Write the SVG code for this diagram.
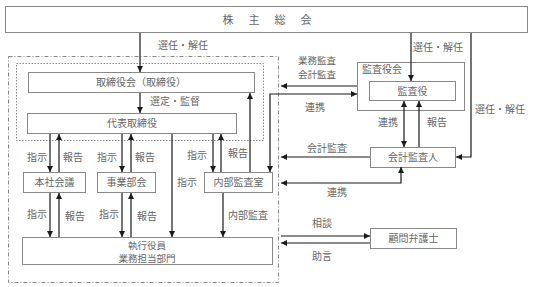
<svg xmlns="http://www.w3.org/2000/svg" width="533" height="287" viewBox="0 0 533 287">
<defs>
<marker id="ah" viewBox="0 0 10 10" refX="10" refY="5" markerWidth="6" markerHeight="6" orient="auto-start-reverse" markerUnits="userSpaceOnUse">
<path d="M0,0 L10,5 L0,10 z" fill="#1a1a1a"/>
</marker>
<style>
.box{fill:#fff;stroke:#888;stroke-width:1}
.t{font-family:"Noto Sans CJK JP","Noto Sans",sans-serif;font-size:10px;fill:#666}
.s{font-size:9.5px}
.m{text-anchor:middle}
.c{fill:none;stroke:#1a1a1a;stroke-width:1.2}
.a{marker-end:url(#ah)}
.b{marker-start:url(#ah);marker-end:url(#ah)}
</style>
</defs>
<rect width="533" height="287" fill="#fff"/>
<rect x="8.5" y="56.5" width="270" height="226" fill="none" stroke="#888" stroke-width="1" stroke-dasharray="4,2,1,2"/>
<rect x="16.5" y="63.5" width="247" height="77" fill="none" stroke="#888" stroke-width="1" stroke-dasharray="1.5,1.5"/>
<g id="shareholders"><rect class="box" x="5.5" y="6.5" width="522" height="26"/><text class="t m" x="268" y="24" style="font-size:11px;letter-spacing:2px">株　主　総　会</text></g>
<g id="board"><rect class="box" x="28.5" y="72.5" width="226" height="20"/><text class="t m" x="141" y="86">取締役会（取締役）</text></g>
<g id="rep"><rect class="box" x="27.5" y="113.5" width="209" height="20"/><text class="t m" x="132" y="127">代表取締役</text></g>
<g id="honsha"><rect class="box" x="23.5" y="172.5" width="62" height="20"/><text class="t m" x="54.5" y="186">本社会議</text></g>
<g id="jigyo"><rect class="box" x="97.5" y="172.5" width="58" height="20"/><text class="t m" x="126.5" y="186">事業部会</text></g>
<g id="naibu"><rect class="box" x="204.5" y="172.5" width="68" height="20"/><text class="t m" x="238.5" y="186">内部監査室</text></g>
<g id="shikko"><rect class="box" x="22.5" y="237.5" width="250" height="27"/><text class="t s m" x="147" y="249">執行役員</text><text class="t s m" x="147" y="262">業務担当部門</text></g>
<g id="kansayakukai"><rect class="box" x="357.5" y="62.5" width="107" height="48"/><text class="t" x="362" y="73">監査役会</text></g>
<g id="kansayaku"><rect class="box" x="369.5" y="81.5" width="86" height="19"/><text class="t m" x="412.5" y="95">監査役</text></g>
<g id="kaikei"><rect class="box" x="370.5" y="147.5" width="85" height="20"/><text class="t m" x="413" y="161">会計監査人</text></g>
<g id="komon"><rect class="box" x="370.5" y="228.5" width="86" height="20"/><text class="t m" x="413.5" y="242">顧問弁護士</text></g>
<g id="connectors">
<path class="c a" d="M140,33 V72"/>
<path class="c a" d="M140,93 V113"/>
<path class="c a" d="M50,134 V172"/>
<path class="c a" d="M59,172 V134"/>
<path class="c a" d="M122,134 V172"/>
<path class="c a" d="M131,172 V134"/>
<path class="c a" d="M50,193 V237"/>
<path class="c a" d="M59,237 V193"/>
<path class="c a" d="M122,193 V237"/>
<path class="c a" d="M131,237 V193"/>
<path class="c a" d="M172,134 V237"/>
<path class="c a" d="M213,134 V172"/>
<path class="c a" d="M221,172 V134"/>
<path class="c a" d="M250,172 V93"/>
<path class="c a" d="M223,193 V237"/>
<path class="c b" d="M357,94 H270 V172"/>
<path class="c a" d="M357,86 H281"/>
<path class="c a" d="M411,33 V81"/>
<path class="c a" d="M471,33 V157 H456"/>
<path class="c b" d="M404,101 V147"/>
<path class="c a" d="M419,147 V101"/>
<path class="c a" d="M370,157 H281"/>
<path class="c b" d="M401,167 V183 H281"/>
<path class="c a" d="M281,236 H370"/>
<path class="c a" d="M370,243 H281"/>
</g>
<g id="labels">
<text class="t" x="158" y="49">選任・解任</text>
<text class="t" x="150" y="105">選定・監督</text>
<text class="t" x="413" y="51">選任・解任</text>
<text class="t" x="475" y="113">選任・解任</text>
<text class="t s" x="298" y="64">業務監査</text>
<text class="t s" x="298" y="78">会計監査</text>
<text class="t" x="305" y="111">連携</text>
<text class="t" x="378" y="126">連携</text>
<text class="t" x="427" y="126">報告</text>
<text class="t" x="307" y="152">会計監査</text>
<text class="t" x="327" y="196">連携</text>
<text class="t" x="312" y="227">相談</text>
<text class="t" x="312" y="260">助言</text>
<text class="t" x="27" y="161">指示</text>
<text class="t" x="63" y="161">報告</text>
<text class="t" x="97" y="161">指示</text>
<text class="t" x="135" y="161">報告</text>
<text class="t" x="187" y="159">指示</text>
<text class="t" x="228" y="157">報告</text>
<text class="t" x="177" y="186">指示</text>
<text class="t" x="27" y="218">指示</text>
<text class="t" x="65" y="220">報告</text>
<text class="t" x="99" y="218">指示</text>
<text class="t" x="137" y="220">報告</text>
<text class="t" x="228" y="219">内部監査</text>
</g>
</svg>
